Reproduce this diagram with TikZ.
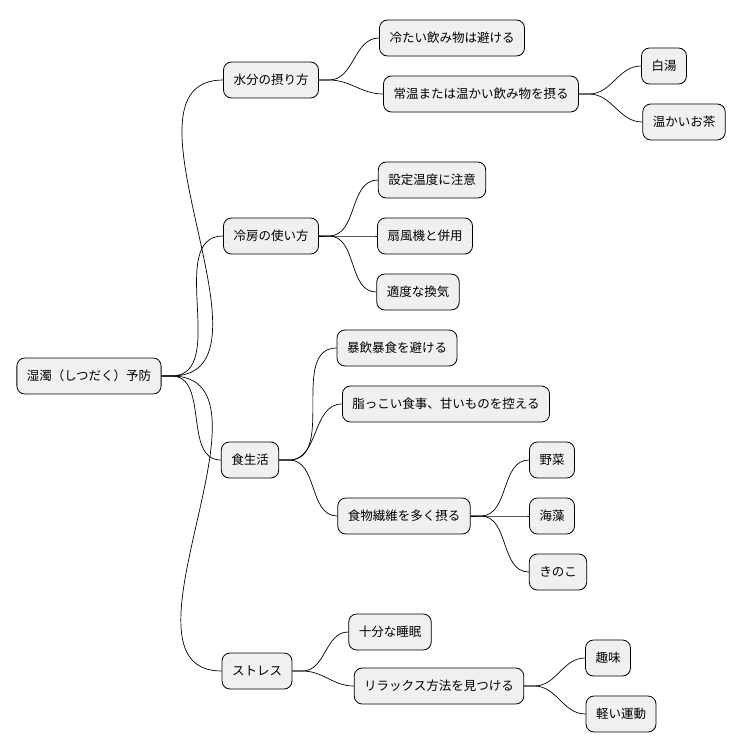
\documentclass[tikz,border=0pt]{standalone}
\usepackage{fontspec}
\setmainfont{Noto Sans CJK JP}
\usetikzlibrary{calc}

\tikzset{
  topic/.style={draw=black, fill=black!6, rounded corners=8pt, minimum height=36pt,
    inner xsep=10pt, font=\fontsize{12.5}{14}\selectfont, line width=0.8pt},
  link/.style={line width=0.7pt}
}

\begin{document}
\begin{tikzpicture}[x=1pt,y=-1pt]

  \useasboundingbox (0,0) rectangle (740,752);

  \node[topic] (root) at (89,376) {湿濁（しつだく）予防};

  \node[topic] (water) at (271,80) {水分の摂り方};
    \node[topic] (cold) at (452,38) {冷たい飲み物は避ける};
    \node[topic] (warm) at (481,94) {常温または温かい飲み物を摂る};
      \node[topic] (yu) at (664,66) {白湯};
      \node[topic] (tea) at (684,122) {温かいお茶};

  \node[topic] (aircon) at (271,236) {冷房の使い方};
    \node[topic] (temp) at (432,180) {設定温度に注意};
    \node[topic] (fan) at (425,236) {扇風機と併用};
    \node[topic] (vent) at (418,292) {適度な換気};

  \node[topic] (diet) at (250,460) {食生活};
    \node[topic] (binge) at (397,348) {暴飲暴食を避ける};
    \node[topic] (oily) at (446,404) {脂っこい食事、甘いものを控える};
    \node[topic] (fiber) at (404,516) {食物繊維を多く摂る};
      \node[topic] (veg) at (552,460) {野菜};
      \node[topic] (sea) at (552,516) {海藻};
      \node[topic] (kinoko) at (558,572) {きのこ};

  \node[topic] (stress) at (257,671) {ストレス};
    \node[topic] (sleep) at (390,632) {十分な睡眠};
    \node[topic] (relax) at (439,686) {リラックス方法を見つける};
      \node[topic] (hobby) at (608,658) {趣味};
      \node[topic] (sport) at (621,714) {軽い運動};

  % connectors
  \foreach \p/\c in {root/water, root/aircon, root/diet, root/stress,
                     water/cold, water/warm, warm/yu, warm/tea,
                     aircon/temp, aircon/fan, aircon/vent,
                     diet/binge, diet/oily, diet/fiber,
                     fiber/veg, fiber/sea, fiber/kinoko,
                     stress/sleep, stress/relax, relax/hobby, relax/sport}
    \draw[link] (\p.east) -- ++(10,0) to[out=0,in=180] (\c.west);

\end{tikzpicture}
\end{document}
